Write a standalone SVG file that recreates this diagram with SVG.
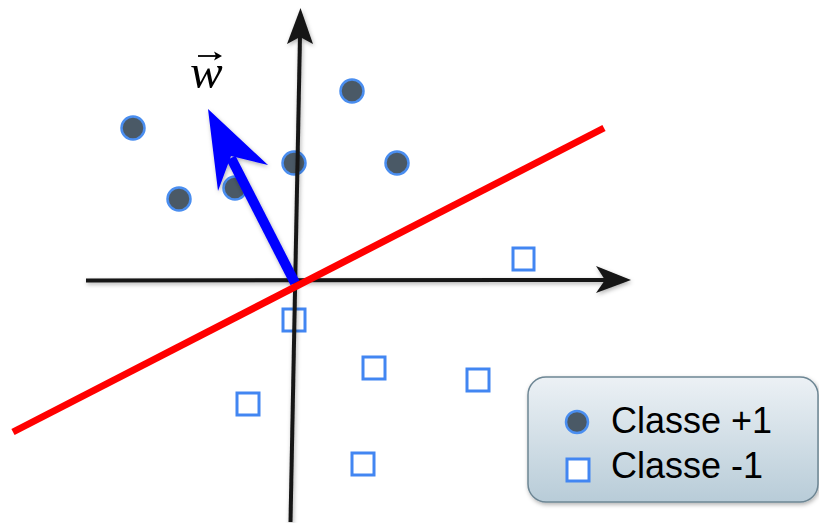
<svg xmlns="http://www.w3.org/2000/svg" width="819" height="523" viewBox="0 0 819 523">
<style>
.dot{fill:#4a5966;stroke:#4a8ef0;stroke-width:2.5}
.sq{fill:#fff;stroke:#4286f2;stroke-width:3}
.axis{stroke:#151515;stroke-width:4;fill:none}
.head{fill:#151515}
.lbl{font-family:"Liberation Sans",Arial,sans-serif;font-size:36px;fill:#000}
</style>
<defs>
<filter id="sh" x="-20%" y="-20%" width="140%" height="140%">
<feDropShadow dx="1" dy="2" stdDeviation="2" flood-color="#000" flood-opacity="0.3"/>
</filter>
<linearGradient id="lg" x1="0" y1="0" x2="0" y2="1">
<stop offset="0" stop-color="#ecf1f5"/>
<stop offset="1" stop-color="#b8ccd8"/>
</linearGradient>
</defs>
<rect width="819" height="523" fill="#fff"/>
<g id="points-pos">
<circle class="dot" cx="133" cy="128" r="11.5"/>
<circle class="dot" cx="179" cy="199" r="11.5"/>
<circle class="dot" cx="235" cy="188" r="11.5"/>
<circle class="dot" cx="294" cy="163" r="11.5"/>
<circle class="dot" cx="352" cy="91" r="11.5"/>
<circle class="dot" cx="397" cy="163" r="11.5"/>
</g>
<g id="points-neg">
<rect class="sq" x="513" y="248" width="21" height="22"/>
<rect class="sq" x="283" y="309" width="22" height="22"/>
<rect class="sq" x="363" y="357" width="22" height="22"/>
<rect class="sq" x="467" y="369" width="22" height="22"/>
<rect class="sq" x="237" y="393" width="22" height="22"/>
<rect class="sq" x="352" y="453" width="22" height="22"/>
</g>
<g id="connectors">
<g id="x-axis" filter="url(#sh)">
<line class="axis" x1="86" y1="280.5" x2="606" y2="280"/>
<path class="head" d="M631,280 L596,266 L605,280 L596,293 Z"/>
</g>
<g id="y-axis" filter="url(#sh)">
<line class="axis" x1="290.5" y1="522" x2="300" y2="36"/>
<path class="head" d="M300.5,8 L287,44 L300,37 L313,44 Z"/>
</g>
<g id="w-vector" filter="url(#sh)">
<line x1="295" y1="283" x2="231" y2="158" stroke="#0000ff" stroke-width="10"/>
<path d="M208,109 L268,165 L231,156 L218,191 Z" fill="#0000ff"/>
</g>
<g id="hyperplane">
<line x1="13" y1="432" x2="604" y2="128" stroke="#ff0000" stroke-width="7"/>
</g>
</g>
<g id="w-label">
<text x="190" y="88" font-family="'Liberation Serif','Times New Roman',serif" font-style="italic" font-size="49">w</text>
<path d="M198,56 L219,56" stroke="#000" stroke-width="1.8" fill="none"/>
<path d="M222,56 L214,51.5 L216,56 L214,60.5 Z" fill="#000"/>
</g>
<g id="legend">
<rect x="528" y="377" width="290" height="125" rx="18" fill="url(#lg)" stroke="#6d8694" stroke-width="1.5" filter="url(#sh)"/>
<circle class="dot" cx="577" cy="422" r="11"/>
<text class="lbl" x="611" y="433">Classe +1</text>
<rect class="sq" x="567" y="459" width="22" height="22"/>
<text class="lbl" x="611" y="478">Classe -1</text>
</g>
</svg>
